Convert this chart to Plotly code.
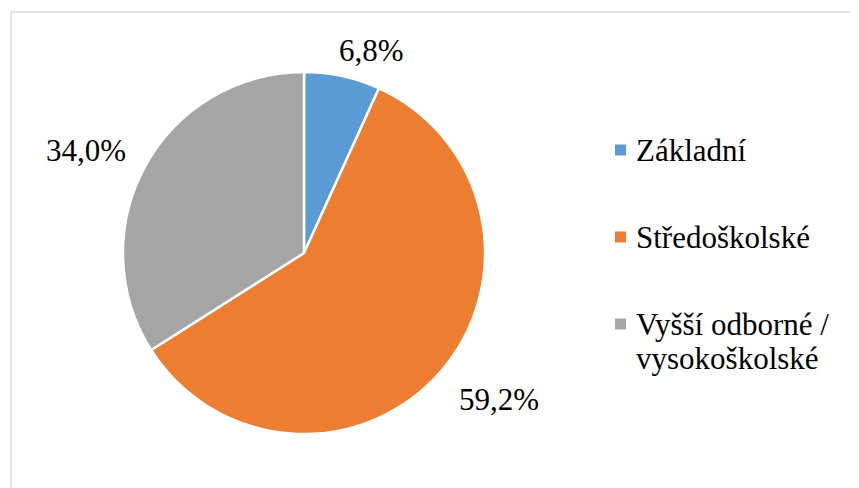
import plotly.graph_objects as go

categories = ["Základní", "Středoškolské", "Vyšší odborné / vysokoškolské"]
values = [6.8, 59.2, 34.0]
colors = ["#5B9BD5", "#ED7D31", "#A5A5A5"]
legend_lines = [["Základní"], ["Středoškolské"], ["Vyšší odborné /", "vysokoškolské"]]

# page has an 8px body margin; figure sized to fill the 859x488 window
OFF = 8
W, H = 859 - OFF, 488 - OFF
FONT = "'Liberation Serif', 'Times New Roman', 'DejaVu Serif', serif"

def px(x):
    return (x - OFF) / W

def py(y):
    return 1 - (y - OFF) / H

cx, cy, R = 304, 253, 181

fig = go.Figure(go.Pie(
    labels=categories,
    values=values,
    sort=False,
    direction="clockwise",
    rotation=0,
    marker=dict(colors=colors, line=dict(color="white", width=2.5)),
    textinfo="none",
    hoverinfo="label+percent",
    showlegend=False,
    domain=dict(x=[px(cx - R), px(cx + R)], y=[py(cy + R), py(cy - R)]),
))

# data labels (positions are layout)
label_pos = [(371, 50), (499, 399), (86, 150)]
for v, (lx, ly) in zip(values, label_pos):
    fig.add_annotation(
        x=px(lx), y=py(ly), xref="paper", yref="paper",
        text=f"{v:.1f}".replace(".", ",") + "%",
        showarrow=False, xanchor="center", yanchor="middle",
        font=dict(family=FONT, size=31, color="black"),
    )

# legend drawn manually
legend_y = [150, 237, 324]
line_gap = 34
for col, lines, ly in zip(colors, legend_lines, legend_y):
    fig.add_shape(type="rect", xref="paper", yref="paper",
                  x0=px(615), x1=px(626), y0=py(ly - 5.5), y1=py(ly + 5.5),
                  fillcolor=col, line=dict(width=0))
    for i, t in enumerate(lines):
        fig.add_annotation(
            x=px(634), y=py(ly + i * line_gap), xref="paper", yref="paper",
            text=t, showarrow=False, xanchor="left", yanchor="middle",
            font=dict(family=FONT, size=31, color="black"),
        )

# chart border
fig.add_shape(type="rect", xref="paper", yref="paper",
              x0=px(11), x1=px(859 + 5), y0=py(488 + 5), y1=py(12),
              line=dict(color="#D9D9D9", width=1.5), fillcolor="rgba(0,0,0,0)")

fig.update_layout(
    width=W, height=H,
    margin=dict(l=0, r=0, t=0, b=0),
    paper_bgcolor="white", plot_bgcolor="white",
    font=dict(family=FONT),
    showlegend=False,
)

fig.write_html("out.html")
